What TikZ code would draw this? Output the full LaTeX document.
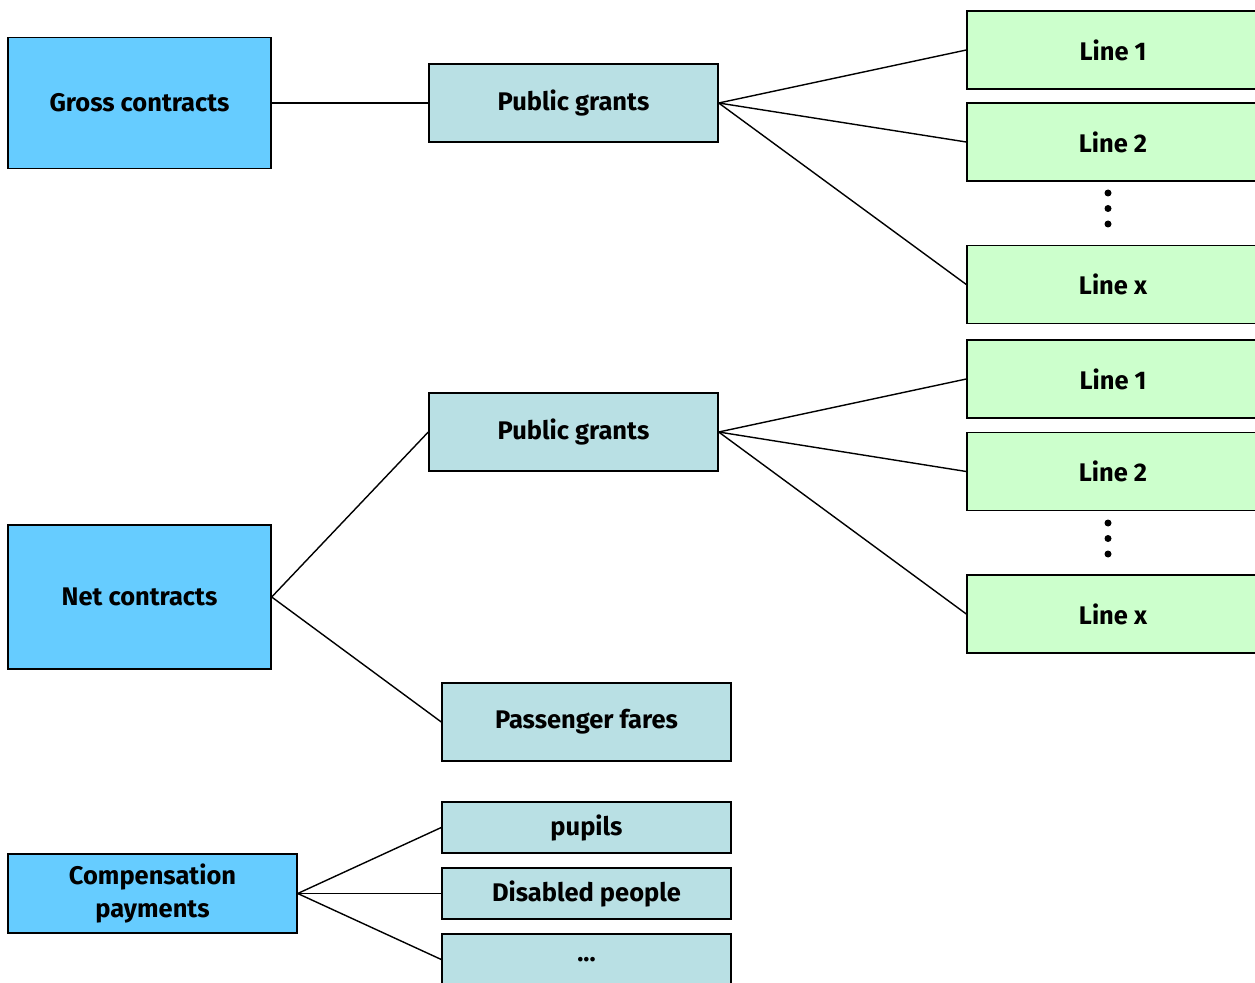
\documentclass[tikz,border=0pt]{standalone}
\usepackage{fontspec}
\setmainfont{Fira Sans}
\usepackage{xcolor}
\definecolor{color1}{RGB}{102, 204, 255}
\definecolor{color2}{RGB}{185, 224, 228}
\definecolor{color3}{RGB}{204, 255, 204}

\begin{document}
\begin{tikzpicture}[line width=0.8pt,
	box/.style = {draw, inner sep=0pt, align=center, font=\fontsize{14.5}{19}\selectfont\bfseries},
	contract/.style = {box, fill=color1, minimum width=5.26cm},
	source/.style = {box, fill=color2, minimum width=5.78cm, minimum height=1.56cm},
	busline/.style = {box, fill=color3, minimum width=5.84cm, minimum height=1.56cm}]
	\useasboundingbox (0, 0) rectangle (25.1, -19.66);
	\begin{scope}
	\clip (0, 0) rectangle (25.1, -19.66);

	\node[contract, minimum height=2.62cm] (gross) at (2.79, -2.06) {Gross contracts};
	\node[contract, minimum height=2.88cm] (net) at (2.79, -11.94) {Net contracts};
	\node[contract, minimum width=5.78cm, minimum height=1.58cm] (comp) at (3.05, -17.87) {Compensation\\payments};

	\node[source] (grantsA) at (11.47, -2.06) {Public grants};
	\node[source] (grantsB) at (11.47, -8.64) {Public grants};
	\node[source] (fares) at (11.73, -14.44) {Passenger fares};
	\node[source, minimum height=1.02cm] (pupils) at (11.73, -16.55) {pupils};
	\node[source, minimum height=1.02cm] (disabled) at (11.73, -17.87) {Disabled people};
	\node[source, minimum height=1.02cm] (etc) at (11.73, -19.19) {...};

	\node[busline] (lineAa) at (22.26, -1.00) {Line 1};
	\node[busline] (lineAb) at (22.26, -2.84) {Line 2};
	\node[busline] (lineAx) at (22.26, -5.69) {Line x};
	\node[busline] (lineBa) at (22.26, -7.58) {Line 1};
	\node[busline] (lineBb) at (22.26, -9.43) {Line 2};
	\node[busline] (lineBx) at (22.26, -12.28) {Line x};

	% vertical dots between Line 2 and Line x
	\foreach \y in {-3.86, -4.17, -4.48, -10.46, -10.77, -11.08}
		\fill (22.16, \y) circle (0.07);

	\draw (gross.east) -- (grantsA.west);
	\draw (grantsA.east) -- (lineAa.west);
	\draw (grantsA.east) -- (lineAb.west);
	\draw (grantsA.east) -- (lineAx.west);
	\draw (net.east) -- (grantsB.west);
	\draw (net.east) -- (fares.west);
	\draw (grantsB.east) -- (lineBa.west);
	\draw (grantsB.east) -- (lineBb.west);
	\draw (grantsB.east) -- (lineBx.west);
	\draw (comp.east) -- (pupils.west);
	\draw (comp.east) -- (disabled.west);
	\draw (comp.east) -- (etc.west);
	\end{scope}
\end{tikzpicture}
\end{document}
